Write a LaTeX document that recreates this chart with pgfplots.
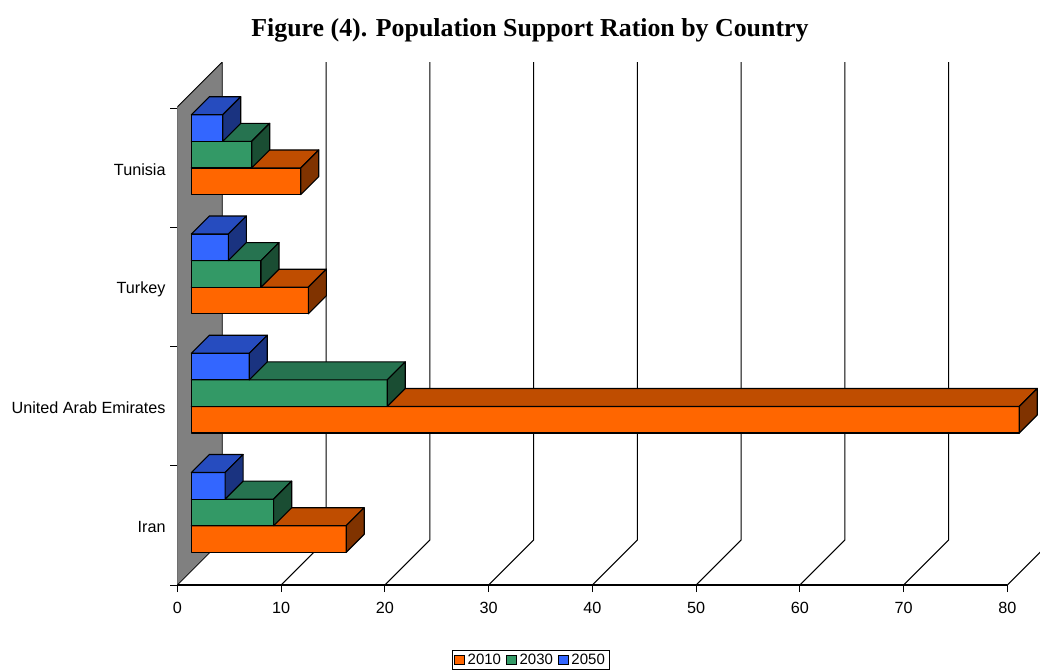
\documentclass[border=0pt]{standalone}
\usepackage{pgfplots}
\pgfplotsset{compat=1.18}
\usepackage{fontspec}
\setmainfont{Liberation Sans}
\newfontfamily\titlefont{Liberation Serif}

\definecolor{ofront}{HTML}{FF6600}
\definecolor{otop}{HTML}{BF4D00}
\definecolor{oside}{HTML}{803300}
\definecolor{gfront}{HTML}{339966}
\definecolor{gtop}{HTML}{267350}
\definecolor{gside}{HTML}{1A4D33}
\definecolor{bfront}{HTML}{3366FF}
\definecolor{btop}{HTML}{264CBF}
\definecolor{bside}{HTML}{1A3380}
\definecolor{wallgray}{HTML}{808080}

\pgfplotsset{bar3d/.style={draw=black, line width=0.85pt, line join=round, mark=none, forget plot}}

% #1 value, #2 group base (px above baseline), #3 offset within group, #4 front, #5 top, #6 side colour
\newcommand\cuboid[6]{%
  \pgfmathsetmacro\xa{1.349}%
  \pgfmathsetmacro\xb{1.349+#1}%
  \pgfmathsetmacro\xc{1.349+#1+1.735}%
  \pgfmathsetmacro\xd{1.349+1.735}%
  \pgfmathsetmacro\ya{#2+#3}%
  \pgfmathsetmacro\yb{#2+#3+26.6}%
  \pgfmathsetmacro\yc{#2+#3+26.6+18}%
  \pgfmathsetmacro\yd{#2+#3+18}%
  \edef\cub{%
    \noexpand\addplot[bar3d,fill=#4] coordinates {(\xa,\ya) (\xb,\ya) (\xb,\yb) (\xa,\yb)} -- cycle;
    \noexpand\addplot[bar3d,fill=#5] coordinates {(\xa,\yb) (\xb,\yb) (\xc,\yc) (\xd,\yc)} -- cycle;
    \noexpand\addplot[bar3d,fill=#6] coordinates {(\xb,\ya) (\xc,\yd) (\xc,\yc) (\xb,\yb)} -- cycle;
  }\cub}
% #1 base px, #2 2010, #3 2030, #4 2050
\newcommand\bargroup[4]{%
  \cuboid{#2}{#1}{0}{ofront}{otop}{oside}%
  \cuboid{#3}{#1}{26.6}{gfront}{gtop}{gside}%
  \cuboid{#4}{#1}{53.2}{bfront}{btop}{bside}%
}

\begin{document}
\begin{tikzpicture}
\begin{axis}[
  x=7.78125pt, y=0.75pt,
  xmin=0, xmax=83.15, ymin=0, ymax=523,
  axis line style={draw=none},
  clip=true,
  font=\fontsize{12.15}{14}\selectfont,
  /pgf/number format/assume math mode=true,
  tick align=outside,
  major tick length=5.25pt,
  minor tick length=5.25pt,
  tick style={black, line width=0.75pt},
  xtick={0,10,...,80},
  xtick pos=lower,
  xticklabel style={yshift=-4pt},
  ytick={59.6,178.9,298.1,417.4},
  yticklabels={Iran,United Arab Emirates,Turkey,Tunisia},
  yticklabel style={yshift=-1.5pt},
  minor ytick={0,119.25,238.5,357.75,477},
  ytick pos=left,
  every major y tick/.append style={draw=none},
  title={Figure (4). Population Support Ration by Country},
  title style={font=\titlefont\bfseries\fontsize{19.4}{23}\selectfont, at={(0.4088,1.065)}, anchor=center, yshift=-7.5pt},
  legend style={at={(0.41,-0.1243)}, anchor=north, legend columns=3, draw=black, line width=0.7pt,
    font=\fontsize{11.25}{13}\selectfont, inner xsep=1.5pt, inner ysep=0.5pt,
    /tikz/every even column/.append style={column sep=2pt}},
  legend image code/.code={\draw[#1, draw=black, line width=0.7pt] (0pt,-3.6pt) rectangle (7.2pt,3.6pt);},
]
% walls and floor
\addplot[fill=wallgray, draw=black, line width=0.6pt, forget plot] coordinates {(0,0) (4.337,45) (4.337,523) (0,478)} -- cycle;
\addplot[black, line width=0.8pt, forget plot] coordinates {(0,0) (80,0)};
\addplot[black, line width=0.8pt, forget plot] coordinates {(10,0) (14.337,45) (14.337,523)};
\addplot[black, line width=0.8pt, forget plot] coordinates {(20,0) (24.337,45) (24.337,523)};
\addplot[black, line width=0.8pt, forget plot] coordinates {(30,0) (34.337,45) (34.337,523)};
\addplot[black, line width=0.8pt, forget plot] coordinates {(40,0) (44.337,45) (44.337,523)};
\addplot[black, line width=0.8pt, forget plot] coordinates {(50,0) (54.337,45) (54.337,523)};
\addplot[black, line width=0.8pt, forget plot] coordinates {(60,0) (64.337,45) (64.337,523)};
\addplot[black, line width=0.8pt, forget plot] coordinates {(70,0) (74.337,45) (74.337,523)};
\addplot[black, line width=0.8pt, forget plot] coordinates {(80,0) (84.337,45) (84.337,523)};
% bars: Iran, United Arab Emirates, Turkey, Tunisia (2010, 2030, 2050)
\bargroup{32.7}{14.93}{7.94}{3.26}
\bargroup{151.95}{79.8}{18.89}{5.59}
\bargroup{271.2}{11.28}{6.72}{3.57}
\bargroup{390.45}{10.55}{5.82}{3.03}
\addlegendimage{fill=ofront}\addlegendentry{2010}
\addlegendimage{fill=gfront}\addlegendentry{2030}
\addlegendimage{fill=bfront}\addlegendentry{2050}
\coordinate (bbsw) at (axis cs:-17.09,-84);
\coordinate (bbne) at (axis cs:83.15,585);
\end{axis}
\pgfresetboundingbox
\path[use as bounding box] (bbsw) rectangle (bbne);
\end{tikzpicture}
\end{document}
